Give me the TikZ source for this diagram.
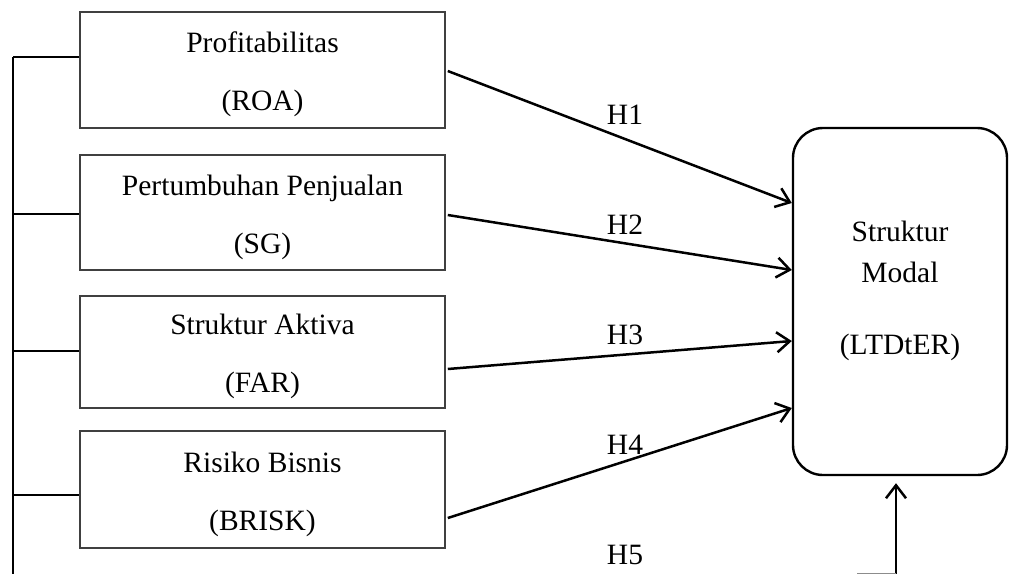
\documentclass[tikz,border=0pt]{standalone}
\usepackage{fontspec}
\setmainfont{Liberation Serif}
\usetikzlibrary{arrows.meta}
\newcommand{\tallstrut}{\rule{0pt}{30pt}}
\begin{document}
\begin{tikzpicture}[x=1pt,y=-1pt,
  varbox/.style={draw=black!75, line width=1.6pt, minimum width=365pt, align=center, inner sep=0pt, font=\fontsize{29.5}{58}\selectfont},
  depbox/.style={draw=black, line width=2.4pt, minimum width=214pt, minimum height=347pt, rounded corners=30pt, inner sep=0pt},
  arr/.style={draw=black, line width=2.5pt, -{Straight Barb[length=13pt,width=20pt,line width=2.5pt]}},
  link/.style={draw=black, line width=2.5pt},
  hlabel/.style={inner sep=0pt, font=\fontsize{29.5}{34}\selectfont}
]
\useasboundingbox (0,0) rectangle (1010,574);
% independent variable boxes
\node[varbox, minimum height=116pt] (b1) at (262.5,70) {\tallstrut Profitabilitas\\(ROA)};
\node[varbox, minimum height=115pt] (b2) at (262.5,212.5) {\tallstrut Pertumbuhan Penjualan\\(SG)};
\node[varbox, minimum height=112pt] (b3) at (262.5,352) {\tallstrut Struktur Aktiva\\(FAR)};
\node[varbox, minimum height=117pt] (b4) at (262.5,489.5) {\tallstrut Risiko Bisnis\\(BRISK)};
% dependent variable
\node[depbox] (R) at (900,301.5) {};
\node[inner sep=0pt, align=center, font=\fontsize{29.5}{41}\selectfont] (rt) at ([yshift=11pt]R.center) {Struktur\\Modal\\[31pt](LTDtER)};
% left bracket line
\coordinate (t1) at (13,57);
\coordinate (t2) at (13,214);
\coordinate (t3) at (13,351);
\coordinate (t4) at (13,495);
\coordinate (tb) at (13,574);
\draw[link] (t1) -- (tb);
\draw[link] (t1) -- (t1 -| b1.west);
\draw[link] (t2) -- (t2 -| b2.west);
\draw[link] (t3) -- (t3 -| b3.west);
\draw[link] (t4) -- (t4 -| b4.west);
% arrows
\draw[arr] ([xshift=2pt,yshift=-1pt]b1.east) -- ([yshift=98.5pt]R.west);
\draw[arr] ([xshift=2pt,yshift=-2.5pt]b2.east) -- ([yshift=31.5pt]R.west);
\draw[arr] ([xshift=2pt,yshift=-17pt]b3.east) -- ([yshift=-39.5pt]R.west);
\draw[arr] ([xshift=2pt,yshift=-28.5pt]b4.east) -- ([yshift=-106.5pt]R.west);
\coordinate (h5s) at (896,574);
\coordinate (h5l) at (857,573);
\draw[arr, shorten >=7pt] (h5s) -- (h5s |- R.south);
\draw[draw=black!45, line width=1pt] (h5l) -- (h5l -| h5s);
% labels
\node[hlabel] (l1) at (625,115) {H1};
\node[hlabel] (l2) at (625,225) {H2};
\node[hlabel] (l3) at (625,335) {H3};
\node[hlabel] (l4) at (625,445) {H4};
\node[hlabel] (l5) at (625,555) {H5};
\end{tikzpicture}
\end{document}
